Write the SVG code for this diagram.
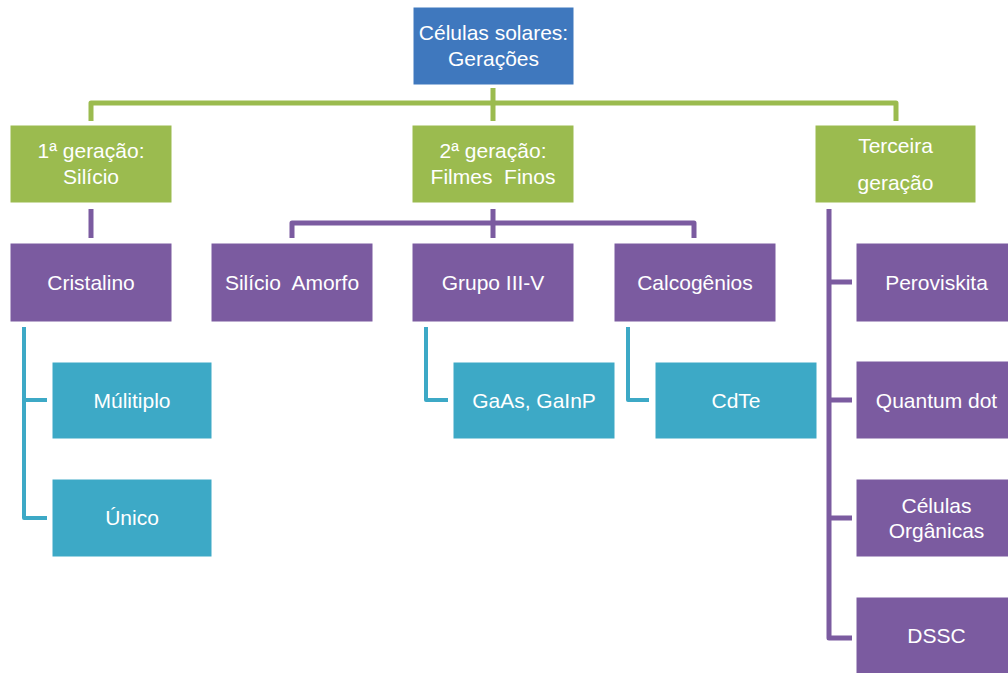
<svg xmlns="http://www.w3.org/2000/svg" width="1008" height="673" viewBox="0 0 1008 673">
<style>
.blue{fill:#3F78BE;stroke:#ffffff;stroke-width:1}
.green{fill:#9BBB4F;stroke:#ffffff;stroke-width:1}
.purple{fill:#7B5BA0;stroke:#ffffff;stroke-width:1}
.cyan{fill:#3DA9C6;stroke:#ffffff;stroke-width:1}
text{font-family:"Liberation Sans",Arial,sans-serif;font-size:21px;fill:#ffffff;text-anchor:middle}
.cg{fill:none;stroke:#9BBB4F;stroke-width:5;stroke-linejoin:round}
.cp{fill:none;stroke:#7B5BA0;stroke-width:5;stroke-linejoin:round}
.cc{fill:none;stroke:#3DA9C6;stroke-width:4;stroke-linejoin:round}
</style>
<rect width="1008" height="673" fill="#ffffff"/>
<g id="connectors">
<path class="cg" d="M493 88V103M91 121V103H896V121M493 103V121"/>
<path class="cp" d="M91 209V238"/>
<path class="cp" d="M493 209V238M292 238V223H694V238"/>
<path class="cp" d="M829 209V638H852M829 282H852M829 400H852M829 518H852"/>
<path class="cc" d="M24 327V518H47M24 400H47"/>
<path class="cc" d="M426 327V400H448"/>
<path class="cc" d="M628 327V400H649"/>
</g>
<g id="root"><rect class="blue" x="413" y="7" width="161" height="78"/><text x="493.5" y="40">Células solares:</text><text x="493.5" y="66">Gerações</text></g>
<g id="gen1"><rect class="green" x="10" y="125" width="162" height="78"/><text x="91" y="158">1ª geração:</text><text x="91" y="184">Silício</text></g>
<g id="gen2"><rect class="green" x="412" y="125" width="162" height="78"/><text x="493" y="158">2ª geração:</text><text x="493" y="184">Filmes&#160; Finos</text></g>
<g id="gen3"><rect class="green" x="815" y="125" width="161" height="78"/><text x="895.5" y="153">Terceira</text><text x="895.5" y="190">geração</text></g>
<g id="cristalino"><rect class="purple" x="10" y="243" width="162" height="79"/><text x="91" y="290">Cristalino</text></g>
<g id="amorfo"><rect class="purple" x="211" y="243" width="162" height="79"/><text x="292" y="290">Silício&#160; Amorfo</text></g>
<g id="grupo"><rect class="purple" x="412" y="243" width="162" height="79"/><text x="493" y="290">Grupo III-V</text></g>
<g id="calco"><rect class="purple" x="614" y="243" width="162" height="79"/><text x="695" y="290">Calcogênios</text></g>
<g id="perov"><rect class="purple" x="856" y="243" width="162" height="79"/><text x="936.5" y="290">Peroviskita</text></g>
<g id="quantum"><rect class="purple" x="856" y="361" width="162" height="78"/><text x="936.5" y="408">Quantum dot</text></g>
<g id="organicas"><rect class="purple" x="856" y="479" width="162" height="78"/><text x="936.5" y="513">Células</text><text x="936.5" y="538">Orgânicas</text></g>
<g id="dssc"><rect class="purple" x="856" y="597" width="162" height="78"/><text x="936.5" y="643">DSSC</text></g>
<g id="multiplo"><rect class="cyan" x="52" y="362" width="160" height="77"/><text x="132" y="408">Múlitiplo</text></g>
<g id="unico"><rect class="cyan" x="52" y="479" width="160" height="78"/><text x="132" y="525">Único</text></g>
<g id="gaas"><rect class="cyan" x="453" y="362" width="162" height="77"/><text x="534" y="408">GaAs, GaInP</text></g>
<g id="cdte"><rect class="cyan" x="655" y="362" width="162" height="77"/><text x="736" y="408">CdTe</text></g>
</svg>
